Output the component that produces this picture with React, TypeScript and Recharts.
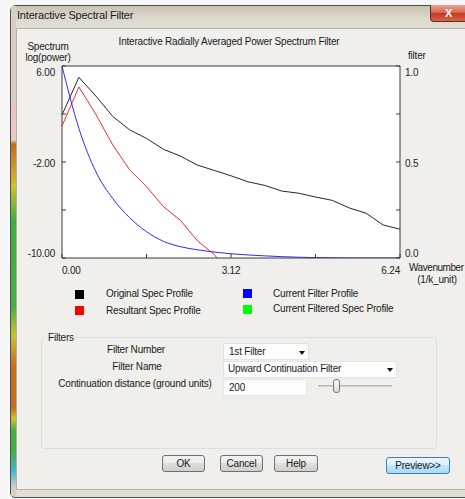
import React from "react";
import { LineChart, Line, XAxis, YAxis, CartesianGrid } from "recharts";

// wavenumber grid (1/k_unit)
const wavenumber = [0, 0.312, 0.624, 0.936, 1.248, 1.56, 1.872, 2.184, 2.496, 2.808, 3.12, 3.432, 3.744, 4.056, 4.368, 4.68, 4.992, 5.304, 5.616, 5.928, 6.24];
// log(power)
const originalSpec = [1.92, 5.06, 3.5, 1.8, 0.68, -0.03, -0.94, -1.5, -2.25, -2.7, -3.15, -3.65, -3.95, -4.42, -4.6, -4.92, -5.2, -5.83, -6.27, -7.25, -7.6];
const resultantSpec = [1.0, 4.25, 1.98, -0.57, -2.65, -4.05, -5.72, -6.85, -8.55, -9.7, -11.5, null, null, null, null, null, null, null, null, null, null];
// filter 0..1
const filterProfile = [1.0, 0.675, 0.45, 0.31, 0.21, 0.137, 0.087, 0.059, 0.043, 0.031, 0.022, 0.016, 0.011, 0.007, 0.004, 0.002, 0.001, 0, 0, 0, 0];

const xTicks = [0, 1.56, 3.12, 4.68, 6.24];
const xLabels = [0, 3.12, 6.24];
const specTicks = [6, 2, -2, -6, -10];
const specLabels = [6, -2, -10];
const filterTicks = [0, 0.25, 0.5, 0.75, 1];
const filterLabels = [0, 0.5, 1];

const legendLeft = [
  { name: "Original Spec Profile", color: "#000000" },
  { name: "Resultant Spec Profile", color: "#ff0000" },
];
const legendRight = [
  { name: "Current Filter Profile", color: "#0000ff" },
  { name: "Current Filtered Spec Profile", color: "#00ff00" },
];

const data = wavenumber.map((k, i) => ({
  k,
  orig: originalSpec[i],
  result: resultantSpec[i],
  filt: filterProfile[i],
}));

const FONT = "'Liberation Sans', Arial, sans-serif";
const tickText = { fontFamily: FONT, fontSize: 10, fill: "#222", letterSpacing: -0.2 };

function edgeDy(v: number, top: number, bottom: number) {
  if (v === top) return 9.5;
  if (v === bottom) return -1.5;
  return 4.5;
}

const SpecTick = (props: any) => {
  const { x, y, payload } = props;
  if (!specLabels.includes(payload.value)) return <g />;
  return (
    <text x={x} y={y + edgeDy(payload.value, 6, -10)} textAnchor="end" style={tickText}>
      {payload.value.toFixed(2)}
    </text>
  );
};

const FilterTick = (props: any) => {
  const { x, y, payload } = props;
  if (!filterLabels.includes(payload.value)) return <g />;
  return (
    <text x={x} y={y + edgeDy(payload.value, 1, 0)} textAnchor="start" style={tickText}>
      {payload.value.toFixed(1)}
    </text>
  );
};

const WaveTick = (props: any) => {
  const { x, y, payload } = props;
  if (!xLabels.includes(payload.value)) return <g />;
  const anchor = payload.value === 0 ? "start" : payload.value === 6.24 ? "end" : "middle";
  return (
    <text x={x} y={y + 16} textAnchor={anchor} style={tickText}>
      {payload.value.toFixed(2)}
    </text>
  );
};

function T({ x, y, children, align = "left", size = 10, color = "#1a1a1a", ls = -0.2 }: any) {
  const tx = align === "center" ? "translateX(-50%)" : align === "right" ? "translateX(-100%)" : "none";
  return (
    <div
      style={{
        position: "absolute",
        left: x,
        top: y - 7,
        height: 14,
        lineHeight: "14px",
        fontSize: size,
        letterSpacing: ls,
        color,
        whiteSpace: "nowrap",
        transform: tx,
      }}
    >
      {children}
    </div>
  );
}

const box = (x: number, y: number, w: number, h: number, extra: any = {}) => ({
  position: "absolute" as const,
  left: x,
  top: y,
  width: w,
  height: h,
  boxSizing: "border-box" as const,
  ...extra,
});

function Button({ x, y, w, h, label, primary }: any) {
  return (
    <div
      style={box(x, y, w, h, {
        border: primary ? "1px solid #3c7fb1" : "1px solid #707070",
        borderRadius: 3,
        background: primary
          ? "linear-gradient(#eaf6fd, #d9f0fc 50%, #bee6fd 50%, #a7d9f5)"
          : "linear-gradient(#f2f2f2, #ebebeb 50%, #dddddd 50%, #cfcfcf)",
        fontSize: 10,
        textAlign: "center",
        lineHeight: `${h - 2}px`,
        color: "#1a1a1a",
        letterSpacing: -0.2,
      })}
    >
      {label}
    </div>
  );
}

function Arrow({ x, y }: any) {
  return (
    <div
      style={{
        position: "absolute",
        left: x,
        top: y,
        width: 0,
        height: 0,
        borderLeft: "3.5px solid transparent",
        borderRight: "3.5px solid transparent",
        borderTop: "4px solid #111",
      }}
    />
  );
}

export default function App() {
  return (
    <div
      style={{
        position: "absolute",
        left: 0,
        top: 0,
        width: 465,
        height: 499,
        overflow: "hidden",
        background: "#f7f7f7",
        fontFamily: FONT,
      }}
    >
      {/* window frame */}
      <div
        style={box(10, 5, 470, 493, {
          border: "1px solid #4e4e4e",
          borderRadius: "6px 6px 5px 5px",
          background: "linear-gradient(#c9c2b3, #ddd8cd 12px, #e4e0d7 24px, #e2ded5)",
        })}
      />
      {/* coloured glass strip on the left border */}
      <div
        style={box(11, 6, 5, 490, {
          background:
            "linear-gradient(#d6d0c4 0px, #d6d0c4 92px, #e6c6c0 96px, #e8cbc6 134px, #c26a1e 138px, #d2c030 180px, #3caf3c 215px, #48b043 300px, #cbc032 330px, #c2701f 360px, #c2701f 402px, #d0c030 412px, #42b040 425px, #42b040 445px, #44b4d2 465px, #d6d0c4 482px)",
        })}
      />
      <T x={17} y={15} size={11}>Interactive Spectral Filter</T>
      {/* close button */}
      <div
        style={box(430, 5, 44, 17, {
          border: "1px solid #6e2a1e",
          borderTop: "none",
          borderRadius: "0 0 4px 4px",
          background: "linear-gradient(#e9a493, #d4624a 50%, #c2391c 50%, #d2664a)",
          color: "#fff",
          fontWeight: "bold",
          fontSize: 11,
          lineHeight: "16px",
          paddingLeft: 14,
        })}
      >
        X
      </div>

      {/* client area */}
      <div style={box(16, 28, 460, 462, { background: "#f0efec", border: "1px solid #b5b2ab" })} />

      {/* chart texts */}
      <T x={229} y={42} align="center">Interactive Radially Averaged Power Spectrum Filter</T>
      <T x={48} y={47} align="center">Spectrum</T>
      <T x={48} y={58} align="center">log(power)</T>
      <T x={408} y={56}>filter</T>
      <T x={409} y={268} ls={-0.45}>Wavenumber</T>
      <T x={437} y={280} align="center">(1/k_unit)</T>

      <div style={{ position: "absolute", left: 0, top: 0 }}>
        <LineChart width={465} height={300} data={data} margin={{ top: 60, right: 5, bottom: 12, left: 16 }}>
          <CartesianGrid fill="#ffffff" horizontal={false} vertical={false} />
          <XAxis
            dataKey="k"
            type="number"
            domain={[0, 6.24]}
            ticks={xTicks}
            interval={0}
            height={30}
            tickSize={-4}
            tickMargin={4}
            stroke="#3a3a3a"
            tick={WaveTick}
          />
          <XAxis
            xAxisId="top"
            dataKey="k"
            type="number"
            orientation="top"
            domain={[0, 6.24]}
            ticks={xTicks}
            interval={0}
            height={6}
            tickSize={-4}
            stroke="#3a3a3a"
            tick={false}
          />
          <YAxis
            yAxisId="spec"
            type="number"
            domain={[-10, 6]}
            ticks={specTicks}
            interval={0}
            allowDataOverflow
            width={46}
            tickSize={-4}
            tickMargin={11}
            stroke="#3a3a3a"
            tick={SpecTick}
          />
          <YAxis
            yAxisId="filter"
            orientation="right"
            type="number"
            domain={[0, 1]}
            ticks={filterTicks}
            interval={0}
            allowDataOverflow
            width={60}
            tickSize={-4}
            tickMargin={9}
            stroke="#3a3a3a"
            tick={FilterTick}
          />
          <Line yAxisId="spec" dataKey="orig" type="linear" stroke="#262626" strokeWidth={1} dot={false} isAnimationActive={false} />
          <Line yAxisId="spec" dataKey="result" type="linear" stroke="#ff2a2a" strokeWidth={1} dot={false} isAnimationActive={false} />
          <Line yAxisId="filter" dataKey="filt" type="monotone" stroke="#2a2aff" strokeWidth={1} dot={false} isAnimationActive={false} />
        </LineChart>
      </div>

      {/* legend */}
      {legendLeft.map((it, i) => (
        <React.Fragment key={it.name}>
          <div style={box(75, 290 + i * 16, 9, 9, { background: it.color })} />
          <T x={106} y={294 + i * 17}>{it.name}</T>
        </React.Fragment>
      ))}
      {legendRight.map((it, i) => (
        <React.Fragment key={it.name}>
          <div style={box(243, 289 + i * 16, 9, 9, { background: it.color })} />
          <T x={273} y={294 + i * 15}>{it.name}</T>
        </React.Fragment>
      ))}

      {/* Filters group */}
      <div style={box(41, 337, 396, 112, { border: "1px solid #d5dfe5", borderRadius: 3 })} />
      <div style={box(45, 331, 30, 13, { background: "#f0efec" })} />
      <T x={48} y={338}>Filters</T>

      <T x={136} y={350} align="center">Filter Number</T>
      <T x={137} y={367} align="center">Filter Name</T>
      <T x={135} y={384} align="center">Continuation distance (ground units)</T>

      <div style={box(223, 343, 86, 17, { background: "#fdfdfd", border: "1px solid #e3e3e3" })} />
      <T x={229} y={352}>1st Filter</T>
      <Arrow x={299} y={351} />

      <div style={box(223, 361, 174, 17, { background: "#fdfdfd", border: "1px solid #e3e3e3" })} />
      <T x={228} y={369}>Upward Continuation Filter</T>
      <Arrow x={387} y={368} />

      <div style={box(223, 379, 84, 17, { background: "#fdfdfd", border: "1px solid #e6e6e6" })} />
      <T x={229} y={388}>200</T>

      <div style={box(318, 385, 74, 2, { background: "#d0d0d0", borderTop: "1px solid #b8b8b8" })} />
      <div style={box(333, 379, 7, 14, { background: "linear-gradient(#f8f8f8, #dcdcdc)", border: "1px solid #777", borderRadius: 3 })} />

      {/* buttons */}
      <Button x={162} y={455} w={43} h={17} label="OK" />
      <Button x={220} y={455} w={43} h={17} label="Cancel" />
      <Button x={274} y={455} w={44} h={17} label="Help" />
      <Button x={386} y={457} w={64} h={17} label="Preview>>" primary />
    </div>
  );
}
